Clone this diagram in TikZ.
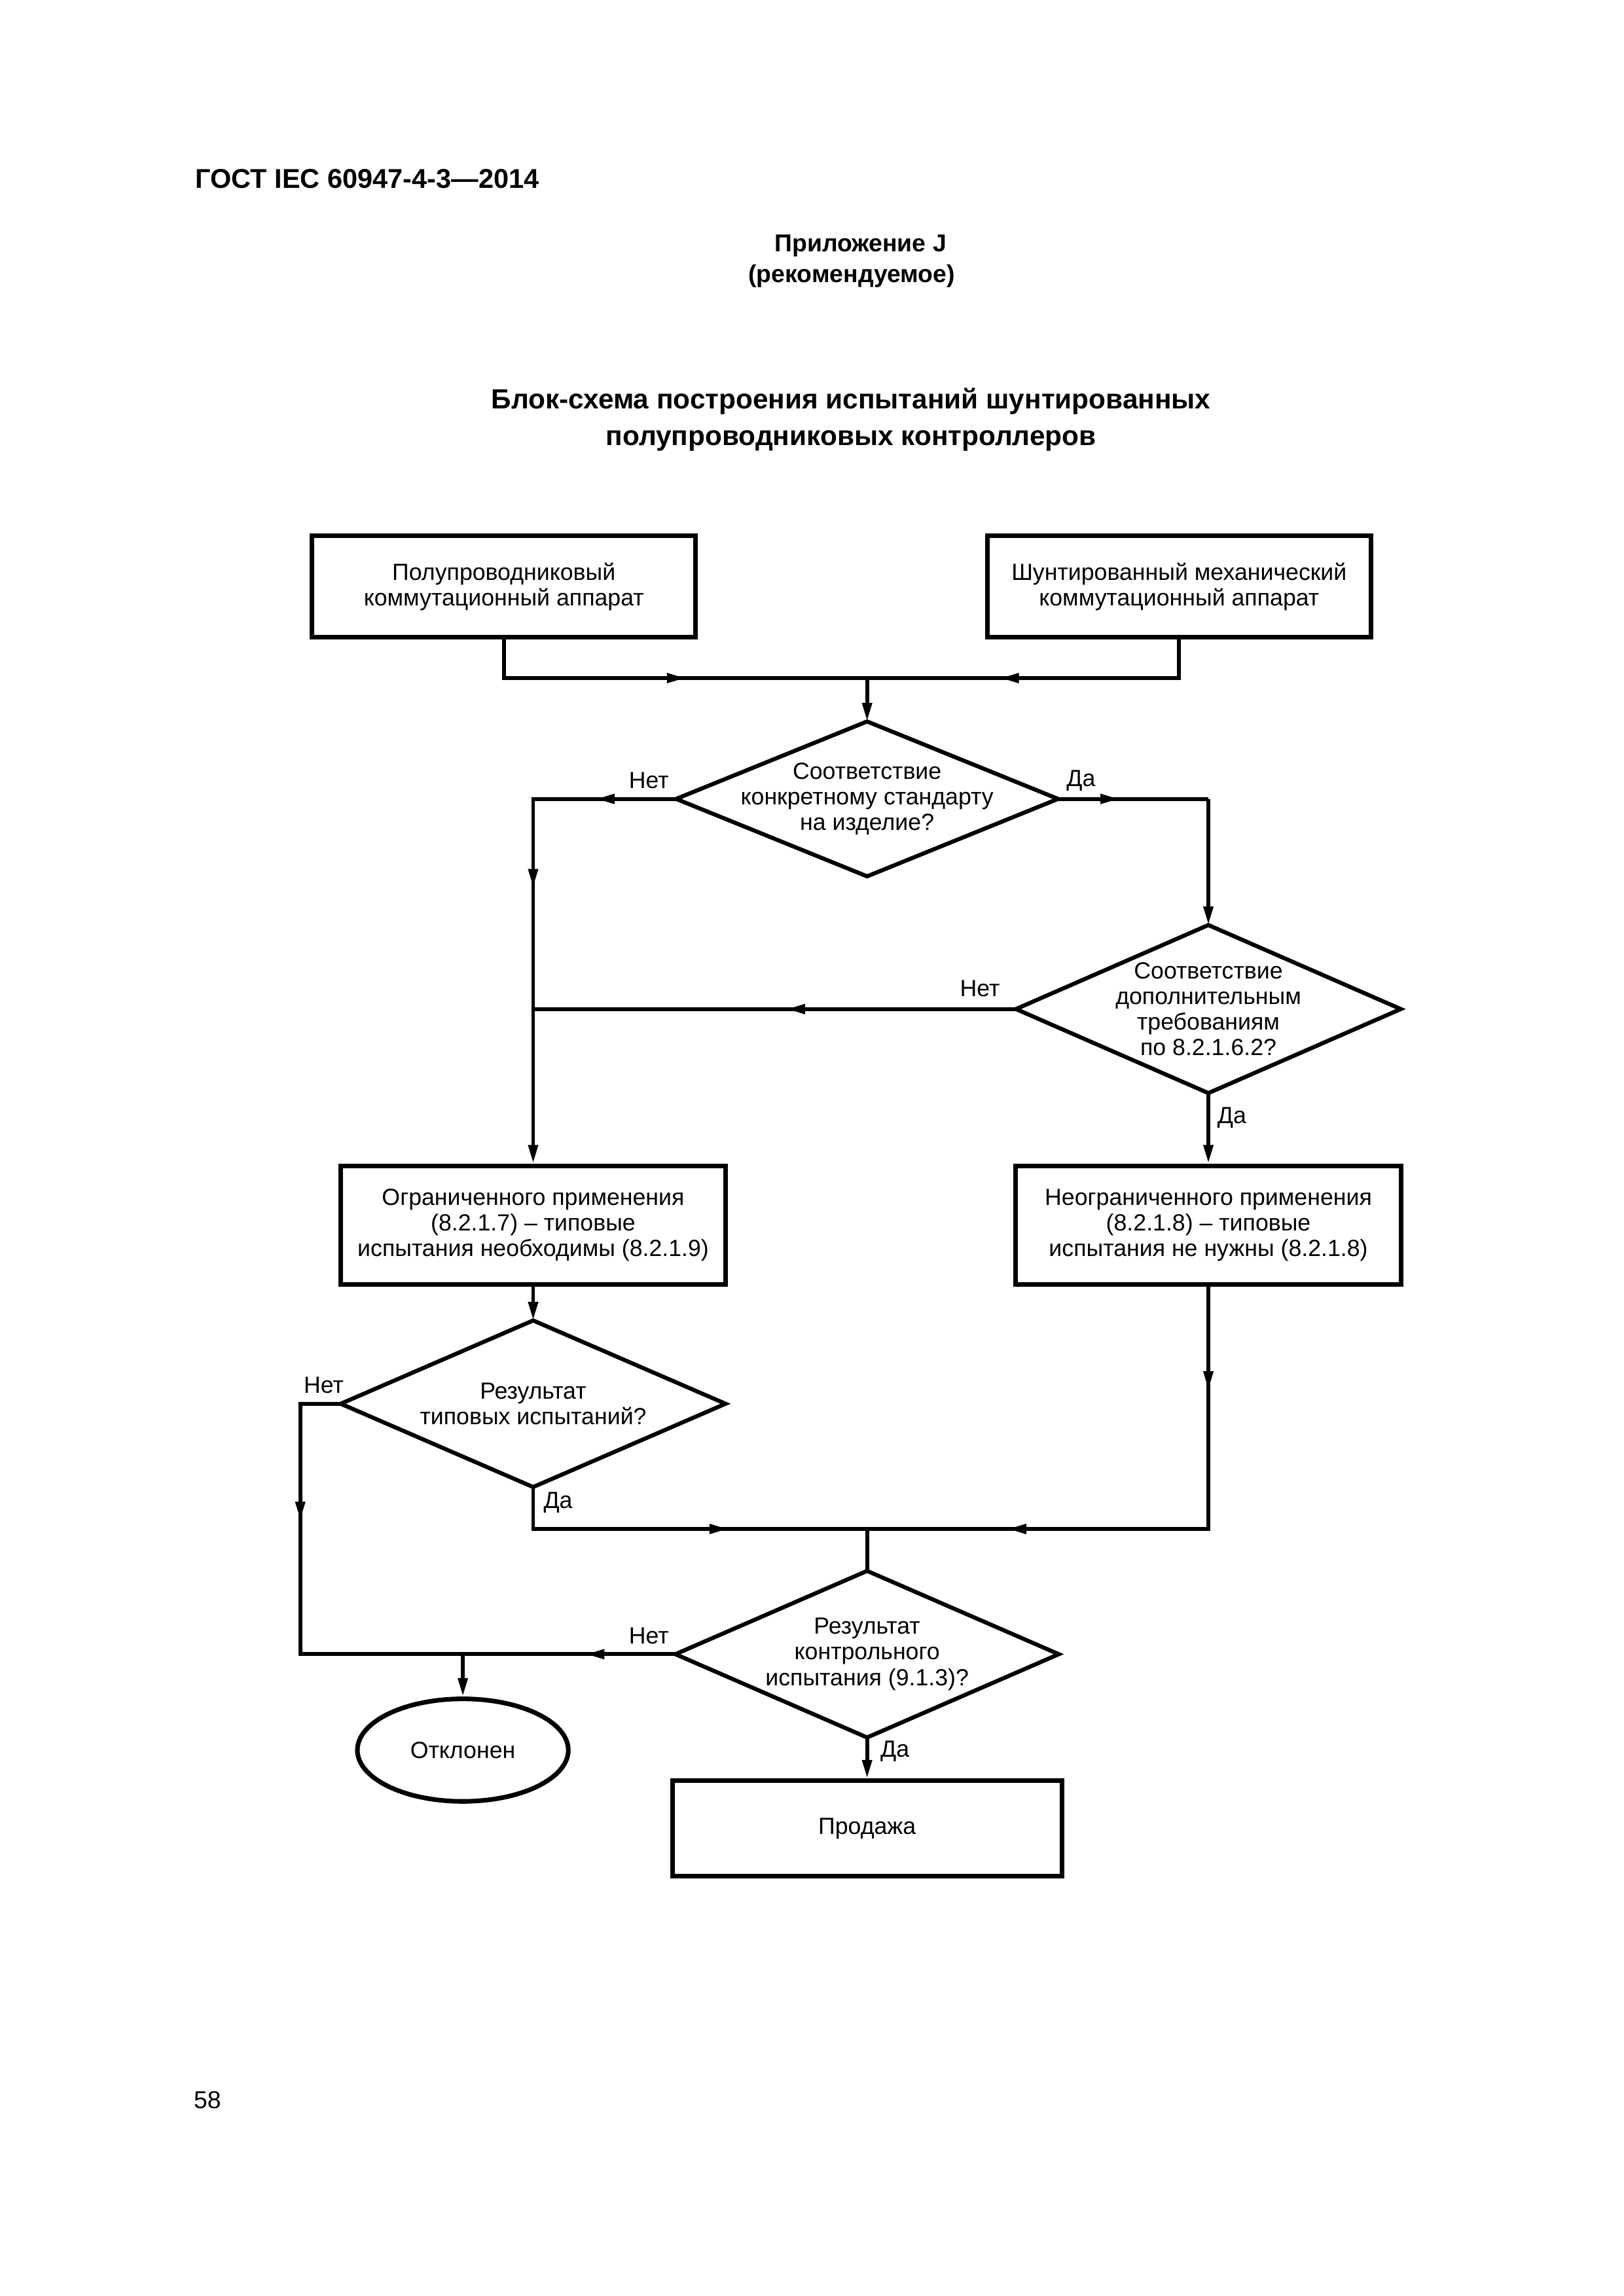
\documentclass[tikz,border=0pt]{standalone}
\usepackage{fontspec}
\setmainfont{Liberation Sans}
\usetikzlibrary{arrows.meta,shapes.geometric}
\newcommand\dU{0.189445mm}
\newcommand\fs{\fontsize{8.6}{9.4}\selectfont}
\begin{document}
\begin{tikzpicture}[x=0.189445mm,y=-0.189445mm,
  blk/.style={draw, line width=1.7pt, align=center, inner sep=0pt, font=\fs},
  dec/.style={draw=none, align=center, inner sep=0pt, font=\fs},
  dshape/.style={line width=1.5pt},
  conn/.style={line width=1.4pt},
  arr/.style={-{Triangle[length=2.4mm,width=1.2mm]}},
  lbl/.style={font=\fs, inner sep=0pt},
]
\useasboundingbox[fill=white] (0,0) rectangle (1108.5,1567.75);

% header texts
\node[anchor=west, inner sep=0pt, font=\fontsize{10}{12}\selectfont\bfseries] (hdr) at (133,122) {ГОСТ IEC 60947-4-3—2014};
\node[inner sep=0pt, font=\fontsize{9}{10}\selectfont\bfseries] (app1) at (587.5,168) {Приложение J};
\node[inner sep=0pt, font=\fontsize{9}{10}\selectfont\bfseries] (app2) at (581.5,188.5) {(рекомендуемое)};
\node[inner sep=0pt, align=center, font=\fontsize{10.2}{13.6}\selectfont\bfseries] (ttl) at (581,286.5) {Блок-схема построения испытаний шунтированных\\полупроводниковых контроллеров};
\node[anchor=west, inner sep=0pt, font=\fontsize{9}{10}\selectfont] (pg) at (132,1434) {58};

% boxes
\node[blk, minimum width=262*\dU, minimum height=69*\dU] (b1) at (344,400.5) {Полупроводниковый\\коммутационный аппарат};
\node[blk, minimum width=262*\dU, minimum height=69*\dU] (b2) at (805,400.5) {Шунтированный механический\\коммутационный аппарат};
\node[blk, minimum width=263*\dU, minimum height=81*\dU] (b3) at (364,836.5) {Ограниченного применения\\(8.2.1.7) – типовые\\испытания необходимы (8.2.1.9)};
\node[blk, minimum width=263*\dU, minimum height=81*\dU] (b4) at (825,836.5) {Неограниченного применения\\(8.2.1.8) – типовые\\испытания не нужны (8.2.1.8)};
\node[blk, minimum width=266*\dU, minimum height=65*\dU] (b5) at (592,1248.5) {Продажа};
\node[blk, ellipse, minimum width=144*\dU, minimum height=70*\dU] (rej) at (316,1195) {Отклонен};

% decisions
\node[dec, minimum width=260*\dU, minimum height=105*\dU] (d1) at (592,545.5) {Соответствие\\конкретному стандарту\\на изделие?};
\draw[dshape] (d1.north) -- (d1.east) -- (d1.south) -- (d1.west) -- cycle;
\node[dec, minimum width=262*\dU, minimum height=114*\dU] (d2) at (825,689) {Соответствие\\дополнительным\\требованиям\\по 8.2.1.6.2?};
\draw[dshape] (d2.north) -- (d2.east) -- (d2.south) -- (d2.west) -- cycle;
\node[dec, minimum width=262*\dU, minimum height=113*\dU] (d3) at (364,958.5) {Результат\\типовых испытаний?};
\draw[dshape] (d3.north) -- (d3.east) -- (d3.south) -- (d3.west) -- cycle;
\node[dec, minimum width=261*\dU, minimum height=113*\dU] (d4) at (592,1129.5) {Результат\\контрольного\\испытания (9.1.3)?};
\draw[dshape] (d4.north) -- (d4.east) -- (d4.south) -- (d4.west) -- cycle;

% coordinates
\coordinate (j1) at (592,463);
\coordinate (a1) at (468,463);
\coordinate (a2) at (683,463);
\coordinate (c1) at (364,545.5);
\coordinate (a3) at (407,545.5);
\coordinate (c2) at (825,545.5);
\coordinate (a4) at (764,545.5);
\coordinate (a5) at (364,606);
\coordinate (j2) at (364,689);
\coordinate (a7) at (537,689);
\coordinate (c3) at (205,958.5);
\coordinate (a11) at (205,1038);
\coordinate (c4) at (205,1129.5);
\coordinate (a15) at (400,1129.5);
\coordinate (j3) at (316,1129.5);
\coordinate (c5) at (364,1044);
\coordinate (a12) at (497,1044);
\coordinate (j4) at (592,1044);
\coordinate (a13) at (825,949);
\coordinate (c6) at (825,1044);
\coordinate (a14) at (688,1044);

% connectors (continuous line, then arrow segment on top)
\draw[conn] (b1.south) |- (j1);
\draw[conn,arr] (b1.south) |- (a1);
\draw[conn] (b2.south) |- (j1);
\draw[conn,arr] (b2.south) |- (a2);
\draw[conn,arr] (j1) -- (d1.north);

\draw[conn] (d1.west) -- (c1) -- (j2);
\draw[conn,arr] (d1.west) -- (a3);
\draw[conn,arr] (c1) -- (a5);
\draw[conn,arr] (j2) -- (b3.north);

\draw[conn] (d1.east) -- (c2);
\draw[conn,arr] (d1.east) -- (a4);
\draw[conn,arr] (c2) -- (d2.north);

\draw[conn] (d2.west) -- (j2);
\draw[conn,arr] (d2.west) -- (a7);
\draw[conn,arr] (d2.south) -- (b4.north);

\draw[conn,arr] (b3.south) -- (d3.north);

\draw[conn] (d3.west) -- (c3) -- (c4) -- (j3);
\draw[conn,arr] (c3) -- (a11);
\draw[conn] (d4.west) -- (j3);
\draw[conn,arr] (d4.west) -- (a15);
\draw[conn,arr] (j3) -- (rej.north);

\draw[conn] (d3.south) -- (c5) -- (j4);
\draw[conn,arr] (c5) -- (a12);
\draw[conn] (b4.south) -- (c6) -- (j4);
\draw[conn,arr] (b4.south) -- (a13);
\draw[conn,arr] (c6) -- (a14);
\draw[conn] (j4) -- (d4.north);
\draw[conn,arr] (d4.south) -- (b5.north);

% branch labels
\node[lbl] (n1) at (443,533) {Нет};
\node[lbl] (y1) at (738,533) {Да};
\node[lbl] (n2) at (669,675) {Нет};
\node[lbl] (y2) at (841,763) {Да};
\node[lbl] (n3) at (221,946) {Нет};
\node[lbl] (y3) at (381,1026) {Да};
\node[lbl] (n4) at (443,1117) {Нет};
\node[lbl] (y4) at (611,1196) {Да};
\end{tikzpicture}
\end{document}
